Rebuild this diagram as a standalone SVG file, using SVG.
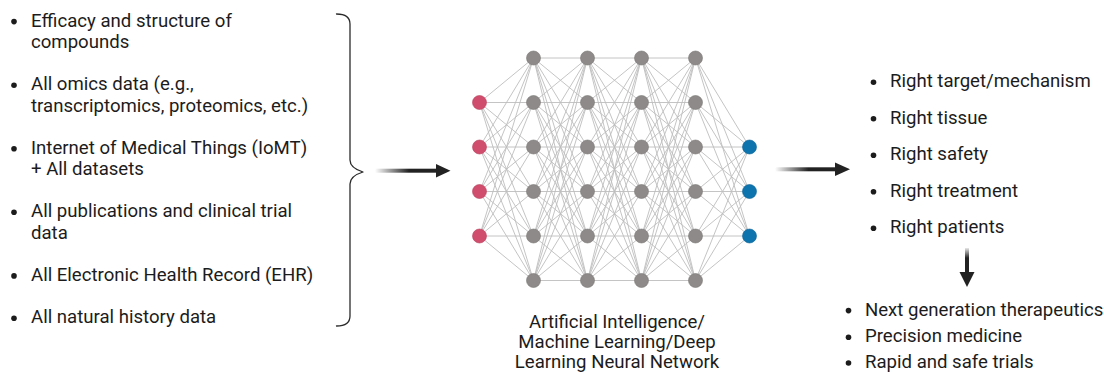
<svg xmlns="http://www.w3.org/2000/svg" xmlns:xlink="http://www.w3.org/1999/xlink" width="1104" height="372" viewBox="0 0 1104 372">
  <style>
    .txt { font-family: Roboto, "Liberation Sans", sans-serif; font-size: 18.6px; fill: #1c1c1c; }
    .mid { text-anchor: middle; }
    .dot { fill: #1c1c1c; }
    .edge { fill: none; stroke: #bdbdbd; stroke-width: 0.9; }
    .in { fill: #d14d6d; stroke: #b8405d; stroke-width: 0.6; }
    .hid { fill: #8d8a89; stroke: #7a7776; stroke-width: 0.6; }
    .out { fill: #0e74ae; stroke: #0a6297; stroke-width: 0.6; }
    .brace { fill: none; stroke: #2b2b2b; stroke-width: 1.3; stroke-linecap: round; stroke-linejoin: round; }
    .head { fill: #222; }
  </style>
  <defs>
    <linearGradient id="fadeH" x1="0" y1="0" x2="1" y2="0">
      <stop offset="0" stop-color="#222" stop-opacity="0"/>
      <stop offset="0.55" stop-color="#222" stop-opacity="1"/>
    </linearGradient>
    <linearGradient id="fadeV" x1="0" y1="0" x2="0" y2="1">
      <stop offset="0" stop-color="#222" stop-opacity="0.1"/>
      <stop offset="0.4" stop-color="#222" stop-opacity="1"/>
    </linearGradient>
    <!-- full mesh between two 6-node hidden layers, 54px apart -->
    <path id="h2h" class="edge" d="M0 58L54 58M0 58L54 102.5M0 58L54 147M0 58L54 191.5M0 58L54 236M0 58L54 280.5
      M0 102.5L54 58M0 102.5L54 102.5M0 102.5L54 147M0 102.5L54 191.5M0 102.5L54 236M0 102.5L54 280.5
      M0 147L54 58M0 147L54 102.5M0 147L54 147M0 147L54 191.5M0 147L54 236M0 147L54 280.5
      M0 191.5L54 58M0 191.5L54 102.5M0 191.5L54 147M0 191.5L54 191.5M0 191.5L54 236M0 191.5L54 280.5
      M0 236L54 58M0 236L54 102.5M0 236L54 147M0 236L54 191.5M0 236L54 236M0 236L54 280.5
      M0 280.5L54 58M0 280.5L54 102.5M0 280.5L54 147M0 280.5L54 191.5M0 280.5L54 236M0 280.5L54 280.5"/>
  </defs>

  <!-- input data sources -->
  <g id="inputs">
    <circle class="dot" cx="14" cy="21.6" r="2.8"/>
    <text class="txt" x="31" y="26.7">Efficacy and structure of</text>
    <text class="txt" x="31" y="47.9">compounds</text>
    <circle class="dot" cx="14" cy="85.2" r="2.8"/>
    <text class="txt" x="31" y="90.3">All omics data (e.g.,</text>
    <text class="txt" x="31" y="111.5">transcriptomics, proteomics, etc.)</text>
    <circle class="dot" cx="14" cy="148.7" r="2.8"/>
    <text class="txt" x="31" y="153.8">Internet of Medical Things (IoMT)</text>
    <text class="txt" x="31" y="175">+ All datasets</text>
    <circle class="dot" cx="14" cy="212.3" r="2.8"/>
    <text class="txt" x="31" y="217.4">All publications and clinical trial</text>
    <text class="txt" x="31" y="238.6">data</text>
    <circle class="dot" cx="14" cy="275.9" r="2.8"/>
    <text class="txt" x="31" y="281">All Electronic Health Record (EHR)</text>
    <circle class="dot" cx="14" cy="318.2" r="2.8"/>
    <text class="txt" x="31" y="323.3">All natural history data</text>
  </g>

  <g id="brace">
    <path class="brace" d="M336.5 14 Q350 14 350 24 L350 160 Q350 168 363 172 Q350 176 350 184 L350 316 Q350 326 336.5 326"/>
  </g>

  <!-- network edges -->
  <g id="connectors">
    <path class="edge" d="M479.5 102.5L533.5 58M479.5 102.5L533.5 102.5M479.5 102.5L533.5 147M479.5 102.5L533.5 191.5M479.5 102.5L533.5 236M479.5 102.5L533.5 280.5
      M479.5 147L533.5 58M479.5 147L533.5 102.5M479.5 147L533.5 147M479.5 147L533.5 191.5M479.5 147L533.5 236M479.5 147L533.5 280.5
      M479.5 191.5L533.5 58M479.5 191.5L533.5 102.5M479.5 191.5L533.5 147M479.5 191.5L533.5 191.5M479.5 191.5L533.5 236M479.5 191.5L533.5 280.5
      M479.5 236L533.5 58M479.5 236L533.5 102.5M479.5 236L533.5 147M479.5 236L533.5 191.5M479.5 236L533.5 236M479.5 236L533.5 280.5"/>
    <use xlink:href="#h2h" href="#h2h" x="533.5"/>
    <use xlink:href="#h2h" href="#h2h" x="587.5"/>
    <use xlink:href="#h2h" href="#h2h" x="641.5"/>
    <path class="edge" d="M695.5 58L749.5 147M695.5 58L749.5 191.5M695.5 58L749.5 236
      M695.5 102.5L749.5 147M695.5 102.5L749.5 191.5M695.5 102.5L749.5 236
      M695.5 147L749.5 147M695.5 147L749.5 191.5M695.5 147L749.5 236
      M695.5 191.5L749.5 147M695.5 191.5L749.5 191.5M695.5 191.5L749.5 236
      M695.5 236L749.5 147M695.5 236L749.5 191.5M695.5 236L749.5 236
      M695.5 280.5L749.5 147M695.5 280.5L749.5 191.5M695.5 280.5L749.5 236"/>
  </g>

  <g id="input-layer">
    <circle class="in" cx="479.5" cy="102.5" r="7"/>
    <circle class="in" cx="479.5" cy="147" r="7"/>
    <circle class="in" cx="479.5" cy="191.5" r="7"/>
    <circle class="in" cx="479.5" cy="236" r="7"/>
  </g>
  <g id="hidden-layer-1">
    <circle class="hid" cx="533.5" cy="58" r="7"/>
    <circle class="hid" cx="533.5" cy="102.5" r="7"/>
    <circle class="hid" cx="533.5" cy="147" r="7"/>
    <circle class="hid" cx="533.5" cy="191.5" r="7"/>
    <circle class="hid" cx="533.5" cy="236" r="7"/>
    <circle class="hid" cx="533.5" cy="280.5" r="7"/>
  </g>
  <g id="hidden-layer-2">
    <circle class="hid" cx="587.5" cy="58" r="7"/>
    <circle class="hid" cx="587.5" cy="102.5" r="7"/>
    <circle class="hid" cx="587.5" cy="147" r="7"/>
    <circle class="hid" cx="587.5" cy="191.5" r="7"/>
    <circle class="hid" cx="587.5" cy="236" r="7"/>
    <circle class="hid" cx="587.5" cy="280.5" r="7"/>
  </g>
  <g id="hidden-layer-3">
    <circle class="hid" cx="641.5" cy="58" r="7"/>
    <circle class="hid" cx="641.5" cy="102.5" r="7"/>
    <circle class="hid" cx="641.5" cy="147" r="7"/>
    <circle class="hid" cx="641.5" cy="191.5" r="7"/>
    <circle class="hid" cx="641.5" cy="236" r="7"/>
    <circle class="hid" cx="641.5" cy="280.5" r="7"/>
  </g>
  <g id="hidden-layer-4">
    <circle class="hid" cx="695.5" cy="58" r="7"/>
    <circle class="hid" cx="695.5" cy="102.5" r="7"/>
    <circle class="hid" cx="695.5" cy="147" r="7"/>
    <circle class="hid" cx="695.5" cy="191.5" r="7"/>
    <circle class="hid" cx="695.5" cy="236" r="7"/>
    <circle class="hid" cx="695.5" cy="280.5" r="7"/>
  </g>
  <g id="output-layer">
    <circle class="out" cx="749.5" cy="147" r="7"/>
    <circle class="out" cx="749.5" cy="191.5" r="7"/>
    <circle class="out" cx="749.5" cy="236" r="7"/>
  </g>

  <g id="network-label">
    <text class="txt mid" x="617" y="328">Artificial Intelligence/</text>
    <text class="txt mid" x="617" y="348.2">Machine Learning/Deep</text>
    <text class="txt mid" x="617" y="368">Learning Neural Network</text>
  </g>

  <!-- flow arrows -->
  <g id="arrows">
    <rect x="375" y="168.7" width="62" height="4" fill="url(#fadeH)"/>
    <polygon class="head" points="436,164 450.5,170.7 436,177.4"/>
    <rect x="775" y="167.3" width="61" height="4" fill="url(#fadeH)"/>
    <polygon class="head" points="835,162.6 850,169.3 835,176"/>
    <rect x="965" y="248" width="4" height="25" fill="url(#fadeV)"/>
    <polygon class="head" points="959.5,272 974.5,272 967,287"/>
  </g>

  <g id="outcomes">
    <circle class="dot" cx="873.5" cy="82.2" r="2.8"/>
    <text class="txt" x="890" y="87.3">Right target/mechanism</text>
    <circle class="dot" cx="873.5" cy="118.7" r="2.8"/>
    <text class="txt" x="890" y="123.8">Right tissue</text>
    <circle class="dot" cx="873.5" cy="155.2" r="2.8"/>
    <text class="txt" x="890" y="160.3">Right safety</text>
    <circle class="dot" cx="873.5" cy="191.7" r="2.8"/>
    <text class="txt" x="890" y="196.8">Right treatment</text>
    <circle class="dot" cx="873.5" cy="228.2" r="2.8"/>
    <text class="txt" x="890" y="233.3">Right patients</text>
  </g>

  <g id="impact">
    <circle class="dot" cx="848.5" cy="310.6" r="2.8"/>
    <text class="txt" x="865" y="315.7">Next generation therapeutics</text>
    <circle class="dot" cx="848.5" cy="337.2" r="2.8"/>
    <text class="txt" x="865" y="342.3">Precision medicine</text>
    <circle class="dot" cx="848.5" cy="363" r="2.8"/>
    <text class="txt" x="865" y="368">Rapid and safe trials</text>
  </g>
</svg>
